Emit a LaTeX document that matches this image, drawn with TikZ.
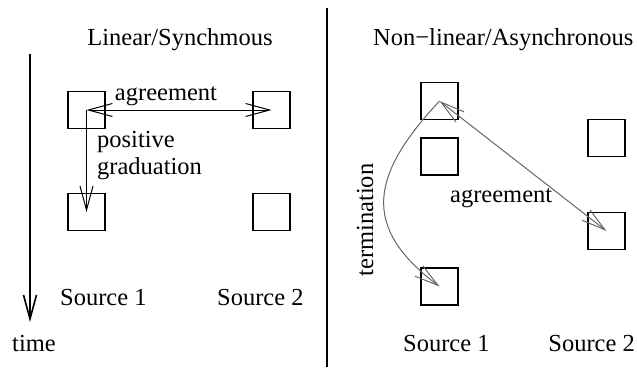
\documentclass[tikz,border=0pt]{standalone}
\usepackage{fontspec}
\setmainfont{Liberation Serif}
\usetikzlibrary{arrows.meta}
\begin{document}
\begin{tikzpicture}[x=1pt,y=-1pt,
  srcbox/.style={draw, line width=1.4pt, minimum width=37pt, minimum height=37pt, inner sep=0pt},
  lbl/.style={font=\fontsize{24.5}{27}\selectfont, inner sep=0pt},
  vee/.tip={Straight Barb[length=24pt,width=13pt]},
  link/.style={line width=1pt, arrows={-vee}},
  dlink/.style={line width=1pt, arrows={vee-vee}},
  grey/.style={draw=black!60}]
\useasboundingbox (0,0) rectangle (637,367);

% panel divider
\draw[line width=1.3pt] (327,8) -- (327,367);

% ---- left panel: linear / synchronous ----
\node[lbl, anchor=base] (t1) at (180,45) {Linear/Synchmous};
\coordinate (tstart) at (30,54);
\coordinate (tend) at (30,322);
\draw[line width=1.6pt, arrows={-vee}] (tstart) -- (tend);
\node[lbl, anchor=base] (time) at (34,351) {time};

\node[srcbox] (l1) at (86.5,110) {};
\node[srcbox] (l2) at (271.5,110) {};
\node[srcbox] (l3) at (86.5,212) {};
\node[srcbox] (l4) at (271.5,212) {};

\draw[dlink] (l1.center) -- (l2.center);
\draw[link] (l1.center) -- (l3.center);
\node[lbl, anchor=base] (agl) at (166,100) {agreement};
\node[lbl, anchor=base west] (pos) at (97,147) {positive};
\node[lbl, anchor=base west] (grad) at (97,174) {graduation};

\node[lbl, anchor=base west] (s1l) at (60,305) {Source 1};
\node[lbl, anchor=base west] (s2l) at (217,305) {Source 2};

% ---- right panel: non-linear / asynchronous ----
\node[lbl, anchor=base west] (t2) at (373,45) {Non\textminus linear/Asynchronous};

\node[srcbox] (ra) at (439.5,101) {};
\node[srcbox] (rb) at (439.5,156.5) {};
\node[srcbox] (rc) at (606.5,138) {};
\node[srcbox] (rd) at (606.5,231) {};
\node[srcbox] (re) at (439.5,286.5) {};

\draw[dlink, grey] (ra.center) -- (rd.center);
\draw[link, grey] (ra.center) .. controls +(-68,73) and +(-80,-60) .. (re.center);
\node[lbl, anchor=base west] (agr) at (450,202) {agreement};
\node[lbl, anchor=base, rotate=90] (term) at (373,220) {termination};

\node[lbl, anchor=base west] (s1r) at (403,351) {Source 1};
\node[lbl, anchor=base east] (s2r) at (635,351) {Source 2};
\end{tikzpicture}
\end{document}
